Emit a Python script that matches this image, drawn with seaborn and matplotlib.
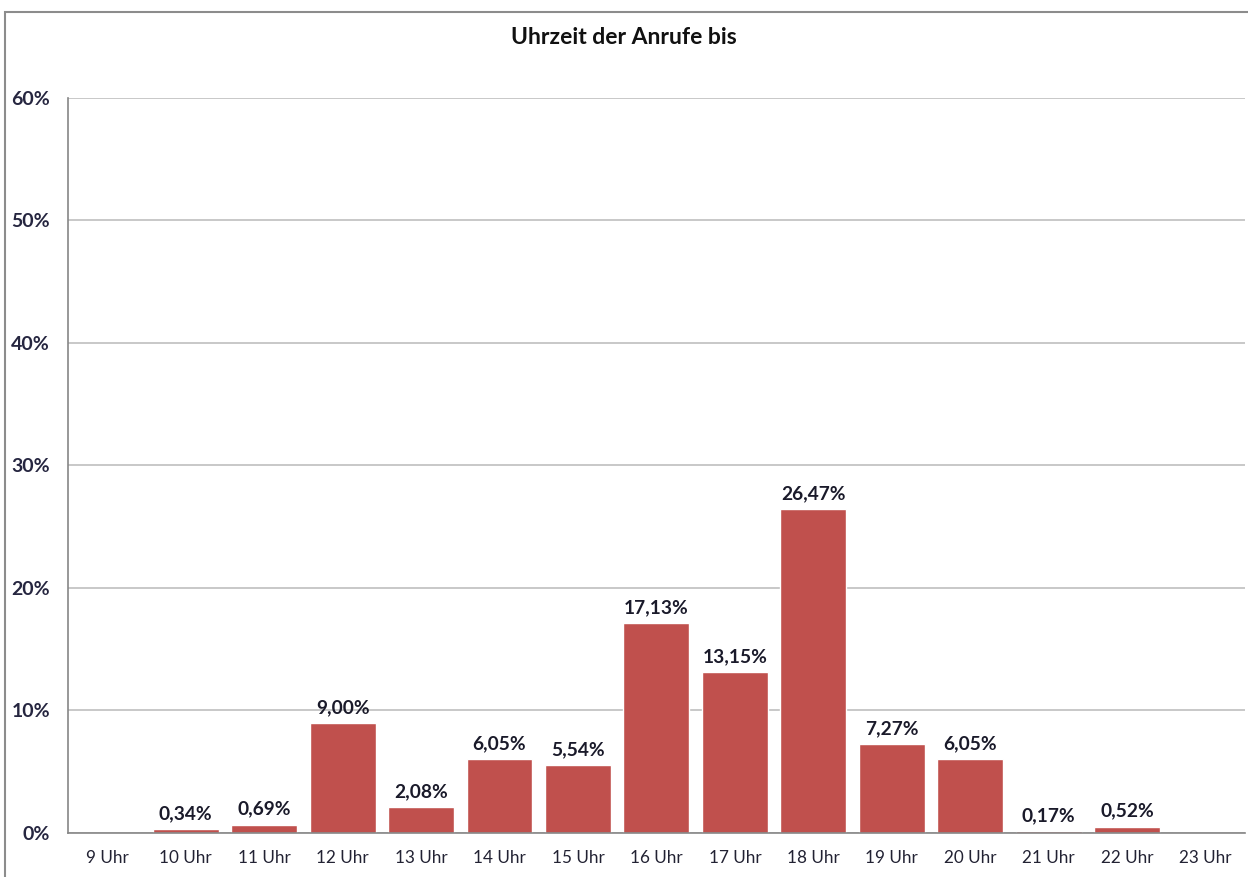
import matplotlib
matplotlib.use('Agg')
import matplotlib.pyplot as plt
import matplotlib.patches as mpatches
from matplotlib.ticker import FixedLocator, PercentFormatter
import seaborn as sns
import pandas as pd
import numpy as np

hours = ['9 Uhr', '10 Uhr', '11 Uhr', '12 Uhr', '13 Uhr', '14 Uhr', '15 Uhr', '16 Uhr',
         '17 Uhr', '18 Uhr', '19 Uhr', '20 Uhr', '21 Uhr', '22 Uhr', '23 Uhr']
shares = [0.0, 0.34, 0.69, 9.00, 2.08, 6.05, 5.54, 17.13,
          13.15, 26.47, 7.27, 6.05, 0.17, 0.52, 0.0]

df = pd.DataFrame({'hour': hours, 'share': shares})

sns.set_style('white')
plt.rcParams['font.family'] = ['Lato', 'DejaVu Sans']

fig = plt.figure(figsize=(12.48, 8.77), dpi=100)
ax = fig.add_axes([0.0545, 0.0502, 0.943, 0.8381])

sns.barplot(data=df, x='hour', y='share', color='#C0504D', saturation=1, width=0.84, ax=ax)

ax.set_ylim(0, 60)
ax.set_xlim(-0.5, len(hours) - 0.5)
ax.set_yticks(np.arange(0, 61, 10))
ax.yaxis.set_major_formatter(PercentFormatter(decimals=0))
ax.grid(axis='y', color='#BFBFBF', linewidth=1.2)
ax.set_axisbelow(True)
ax.set_xlabel('')
ax.set_ylabel('')

for side in ['top', 'right']:
    ax.spines[side].set_visible(False)
for side in ['left', 'bottom']:
    ax.spines[side].set_color('#868686')
    ax.spines[side].set_linewidth(1.2)

ax.tick_params(axis='y', length=6, width=1.2, color='#868686', pad=7, labelsize=14)
ax.tick_params(axis='x', which='major', length=0, pad=12, labelsize=12.3)
ax.xaxis.set_minor_locator(FixedLocator(np.arange(-0.5, len(hours), 1)))
ax.tick_params(axis='x', which='minor', length=6, width=1.2, color='#868686', direction='out')
for lbl in ax.get_yticklabels():
    lbl.set_fontweight('bold')
    lbl.set_color('#262640')
for lbl in ax.get_xticklabels():
    lbl.set_color('#222233')

for i, v in enumerate(shares):
    if v > 0:
        ax.annotate(f'{v:.2f}%'.replace('.', ','), (i, v), xytext=(0, 5),
                    textcoords='offset points', ha='center', va='bottom',
                    fontsize=13.8, fontweight='bold', color='#1a1a2a')

fig.text(0.5, 0.957, 'Uhrzeit der Anrufe bis', ha='center', va='center',
         fontsize=16.5, fontweight='bold', color='#111111')

# outer chart frame
fig.patches.append(mpatches.Rectangle((5 / 1248, -0.01), 1.1, 1 - 12 / 877 + 0.01,
                                      transform=fig.transFigure, fill=False,
                                      edgecolor='#8C8C8C', linewidth=1.5))

fig.savefig('out.png', dpi=100)
